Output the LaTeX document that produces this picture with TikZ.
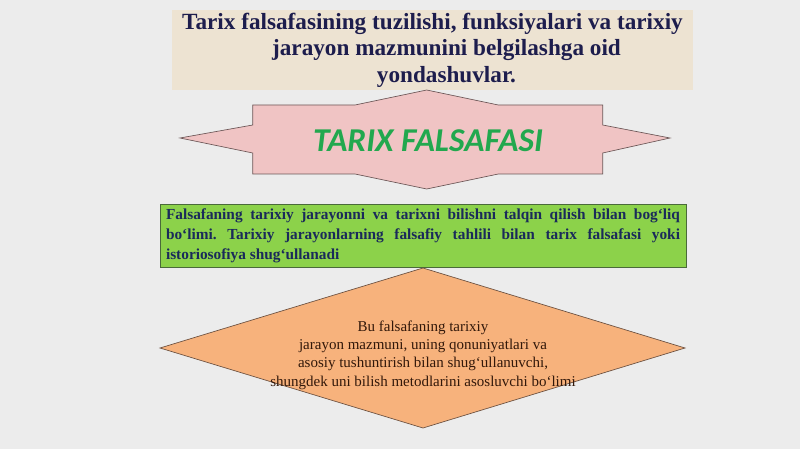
\documentclass[tikz,border=0pt]{standalone}
\usepackage{fontspec}
\setmainfont{Liberation Serif}
\newfontfamily\headfont{Carlito}

\definecolor{slidebg}{RGB}{236,236,236}
\definecolor{titlefill}{RGB}{237,227,210}
\definecolor{titleink}{RGB}{29,29,77}
\definecolor{starfill}{RGB}{240,196,196}
\definecolor{starline}{RGB}{107,86,86}
\definecolor{headgreen}{RGB}{34,168,78}
\definecolor{boxgreen}{RGB}{140,210,74}
\definecolor{boxline}{RGB}{74,106,58}
\definecolor{boxink}{RGB}{26,42,90}
\definecolor{rhombfill}{RGB}{247,178,124}
\definecolor{rhombline}{RGB}{107,80,64}
\definecolor{rhombink}{RGB}{50,24,10}

\begin{document}
\frenchspacing
\begin{tikzpicture}[x=0.75pt,y=0.75pt,yscale=-1,xscale=1]
\path [fill=slidebg] (0,0) rectangle (800,449); %set diagram size 800 x 449

% Text Node
\draw (432.5,50) node (title) [fill=titlefill, minimum width=390.75pt, minimum height=60pt, inner ysep=1pt, align=center, text=titleink, font=\fontsize{17.4}{19.9}\selectfont\bfseries] {Tarix falsafasining tuzilishi, funksiyalari va tarixiy\\ \hspace*{21pt}jarayon mazmunini belgilashga oid\\ \hspace*{21pt}yondashuvlar.};

%Shape: Star [id:star1]
\draw [fill=starfill, draw=starline, line width=0.5] (180,138) -- (252.7,125) -- (252.7,105) -- (355,105) -- (426.7,90) -- (498.3,105) -- (602.7,105) -- (602.7,125) -- (670,138) -- (602.7,153) -- (602.7,174) -- (498.3,174) -- (426.7,189) -- (355,174) -- (252.7,174) -- (252.7,153) -- cycle ;
% Text Node
\draw (428,141) node (head) [text=headgreen, font=\headfont\fontsize{25}{29}\selectfont\bfseries\itshape] {TARIX FALSAFASI};

% Text Node
\draw (423,236) node (def) [fill=boxgreen, draw=boxline, line width=0.6, minimum width=394.5pt, minimum height=46.5pt, inner xsep=4.5pt, text width=385.5pt, align=justify, text=boxink, font=\fontsize{11.5}{14.8}\selectfont\bfseries] {Falsafaning tarixiy jarayonni va tarixni bilishni talqin qilish bilan bog`liq\linebreak bo`limi. Tarixiy jarayonlarning falsafiy tahlili bilan tarix falsafasi yoki\linebreak istoriosofiya shug`ullanadi};

%Shape: Diamond [id:rhomb1]
\draw [fill=rhombfill, draw=rhombline, line width=0.5] (423,268) -- (685,348) -- (423,428) -- (160,348) -- cycle ;
% Text Node
\draw (423,355) node (about) [align=center, text=rhombink, font=\fontsize{11.25}{13.7}\selectfont] {Bu falsafaning tarixiy\\ jarayon mazmuni, uning qonuniyatlari va\\ asosiy tushuntirish bilan shug`ullanuvchi,\\ shungdek uni bilish metodlarini asosluvchi bo`limi};

\end{tikzpicture}
\end{document}
